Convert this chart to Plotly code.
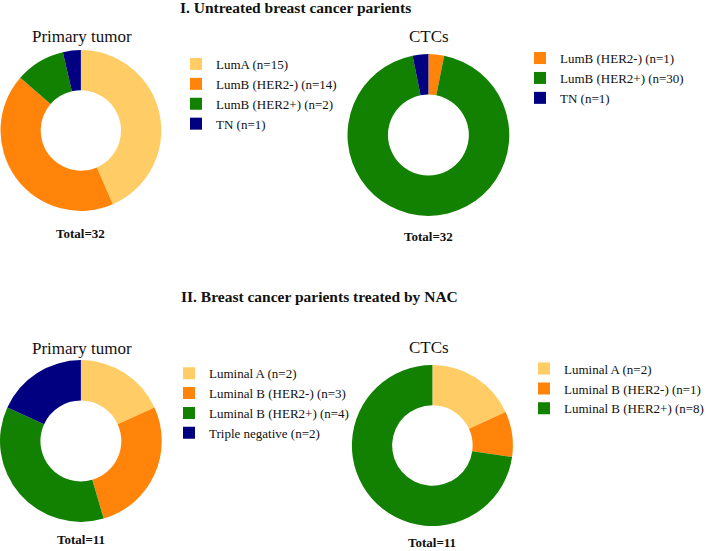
import plotly.graph_objects as go

W, H = 709, 551

# ---- data ----
colors_map = {
    "A": "#FFCC66",
    "B-": "#FF8409",
    "B+": "#128000",
    "TN": "#000080",
}

p1_labels = ["LumA (n=15)", "LumB (HER2-) (n=14)", "LumB (HER2+) (n=2)", "TN (n=1)"]
p1_keys = ["A", "B-", "B+", "TN"]
p1_values = [43.5, 42.9, 10.0, 3.6]   # slice shares as drawn (%)

p2_labels = ["LumB (HER2-) (n=1)", "LumB (HER2+) (n=30)", "TN (n=1)"]
p2_keys = ["B-", "B+", "TN"]
p2_values = [1, 30, 1]

p3_labels = ["Luminal A (n=2)", "Luminal B (HER2-) (n=3)", "Luminal B (HER2+) (n=4)", "Triple negative (n=2)"]
p3_keys = ["A", "B-", "B+", "TN"]
p3_values = [2, 3, 4, 2]

p4_labels = ["Luminal A (n=2)", "Luminal B (HER2-) (n=1)", "Luminal B (HER2+) (n=8)"]
p4_keys = ["A", "B-", "B+"]
p4_values = [2, 1, 8]

section_titles = ["I. Untreated breast cancer parients", "II. Breast cancer parients treated by NAC"]
pie_titles = ["Primary tumor", "CTCs", "Primary tumor", "CTCs"]
totals = ["Total=32", "Total=32", "Total=11", "Total=11"]

SERIF = "Liberation Serif"
TXT = "#111111"


def px_x(x):
    return x / W


def px_y(y):
    return 1 - y / H


# pixel boxes (left, top, right, bottom) for each donut
boxes = [(0.5, 50, 161.5, 211), (348, 54, 510, 216), (0, 360, 162, 522), (352, 365, 514, 526)]
legend_names = ["legend", "legend2", "legend3", "legend4"]

fig = go.Figure()
for i, (labels, keys, values) in enumerate([
    (p1_labels, p1_keys, p1_values),
    (p2_labels, p2_keys, p2_values),
    (p3_labels, p3_keys, p3_values),
    (p4_labels, p4_keys, p4_values),
]):
    l, t, r, b = boxes[i]
    # zero-width suffix keeps identical labels of different donuts in separate legends
    uniq = [lab + "\u200b" * (i + 1) for lab in labels]
    fig.add_trace(go.Pie(
        labels=uniq,
        values=values,
        marker=dict(colors=[colors_map[k] for k in keys], line=dict(width=0)),
        hole=0.5,
        sort=False,
        direction="clockwise",
        rotation=0,
        textinfo="none",
        domain=dict(x=[px_x(l), px_x(r)], y=[px_y(b), px_y(t)]),
        legend=legend_names[i],
        showlegend=True,
    ))

# legends: (left x px, top y px)
leg_pos = [(176, 49), (520, 43.1), (169, 358.2), (525, 353.6)]
leg_layout = {}
for name, (lx, ty) in zip(legend_names, leg_pos):
    leg_layout[name] = dict(
        x=px_x(lx), y=px_y(ty), xanchor="left", yanchor="top",
        font=dict(family=SERIF, size=13, color=TXT),
        bgcolor="rgba(0,0,0,0)", borderwidth=0, traceorder="normal",
        itemclick=False, itemdoubleclick=False,
    )

annotations = []
# section titles
for txt, (cx, cy) in zip(section_titles, [(296, 8), (319.5, 296)]):
    annotations.append(dict(text="<b>" + txt + "</b>", x=px_x(cx), y=px_y(cy), xref="paper", yref="paper",
                            xanchor="center", yanchor="middle", showarrow=False,
                            font=dict(family=SERIF, size=15.5, color=TXT)))
# pie titles
for txt, (cx, cy) in zip(pie_titles, [(82, 36), (430, 36), (82, 348), (430, 347.5)]):
    annotations.append(dict(text=txt, x=px_x(cx), y=px_y(cy), xref="paper", yref="paper",
                            xanchor="center", yanchor="middle", showarrow=False,
                            font=dict(family=SERIF, size=17, color=TXT)))
# totals
for txt, (cx, cy) in zip(totals, [(81, 233), (429, 236), (81, 539.5), (433, 542.5)]):
    annotations.append(dict(text="<b>" + txt + "</b>", x=px_x(cx), y=px_y(cy), xref="paper", yref="paper",
                            xanchor="center", yanchor="middle", showarrow=False,
                            font=dict(family=SERIF, size=13, color=TXT)))

fig.update_layout(
    width=W, height=H,
    margin=dict(l=0, r=0, t=0, b=0),
    paper_bgcolor="white", plot_bgcolor="white",
    annotations=annotations,
    **leg_layout,
)

fig.write_html("out.html", config={"displayModeBar": False},
               post_script="document.body.style.margin='0';document.body.style.overflow='hidden';")
